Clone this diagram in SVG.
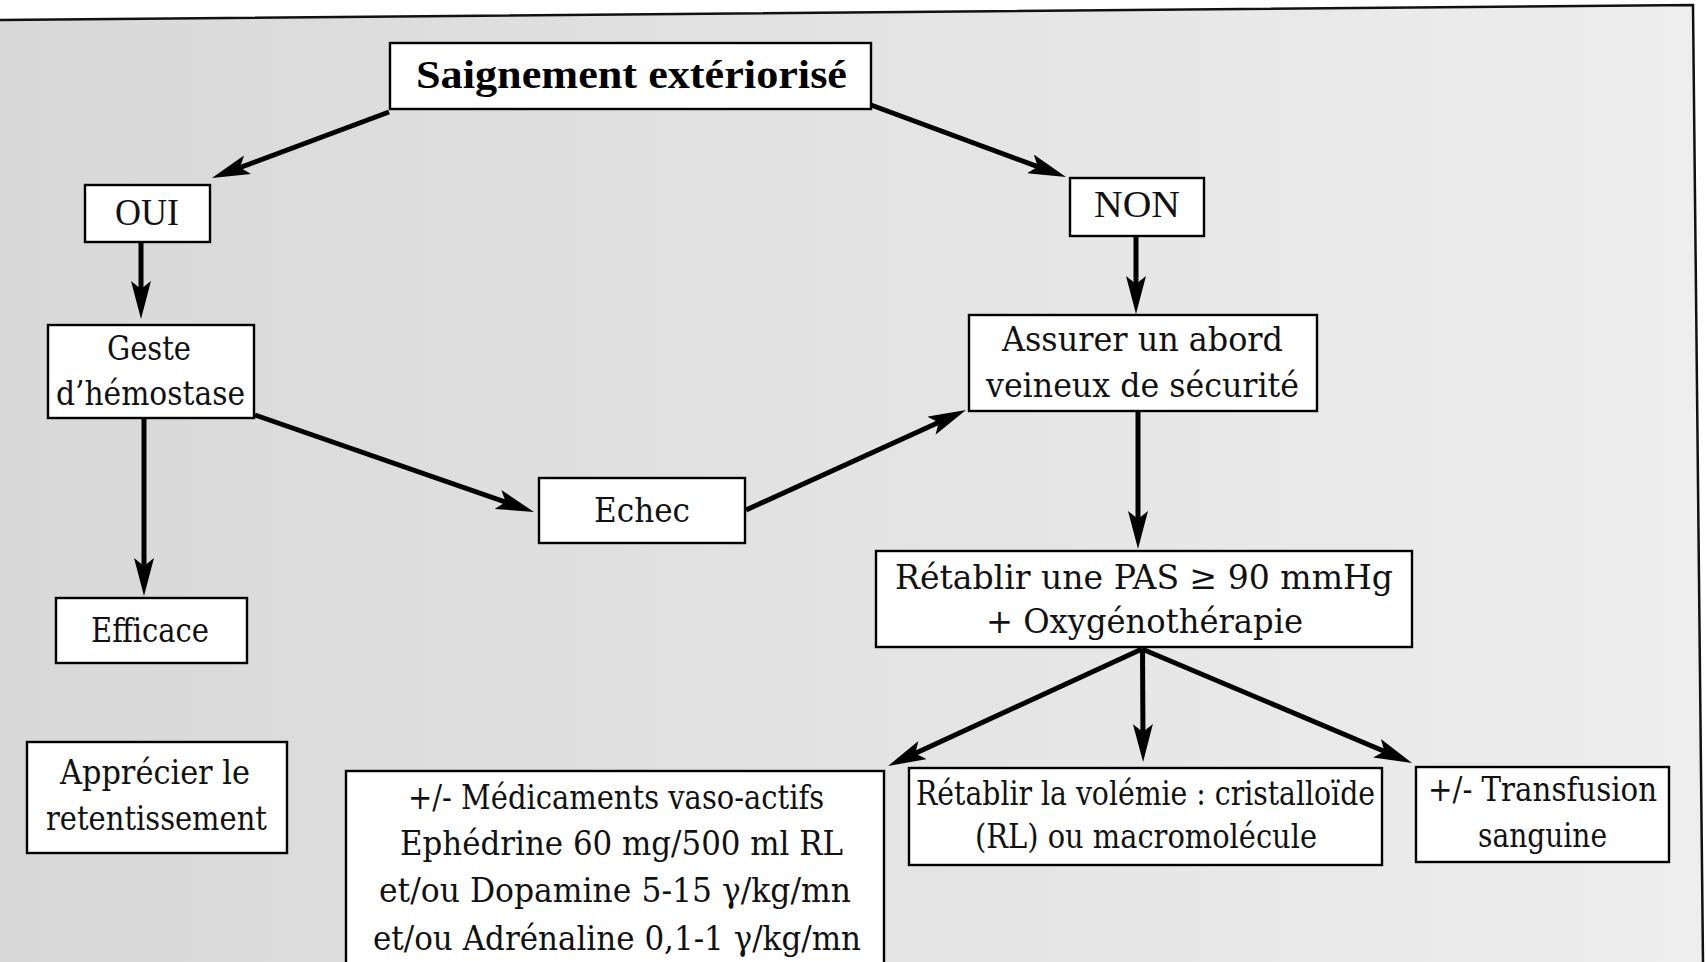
<svg xmlns="http://www.w3.org/2000/svg" width="1706" height="962" viewBox="0 0 1706 962">
  <defs>
    <linearGradient id="paper" x1="0" y1="0" x2="1" y2="0">
      <stop offset="0" stop-color="#d8d8d8"/>
      <stop offset="0.5" stop-color="#e3e3e3"/>
      <stop offset="1" stop-color="#eeeeee"/>
    </linearGradient>
    <marker id="head" viewBox="0 0 38 20" refX="18" refY="10" markerWidth="38" markerHeight="20" markerUnits="userSpaceOnUse" orient="auto">
      <path d="M0,0 L38,10 L0,20 L8,10 Z" fill="#000"/>
    </marker>
    <style>
      .box { fill: #fff; stroke: #000; stroke-width: 2.4; }
      .t { font-family: "DejaVu Serif Condensed", "DejaVu Serif", "Liberation Serif", serif; font-stretch: condensed; font-size: 34px; fill: #111; text-anchor: middle; }
      .tn { font-family: "Liberation Serif", "DejaVu Serif", serif; font-size: 37px; fill: #111; text-anchor: middle; }
      .tb { font-family: "Liberation Serif", "DejaVu Serif", serif; font-size: 41px; font-weight: bold; fill: #000; text-anchor: middle; }
      .edge { fill: none; stroke: #000; stroke-width: 5; marker-end: url(#head); }
    </style>
  </defs>

  <!-- page -->
  <rect x="0" y="0" width="1706" height="962" fill="#fff"/>
  <polygon points="0,20 1693,5 1703,962 0,962" fill="url(#paper)"/>
  <polyline points="0,20 1693,5 1703,962" fill="none" stroke="#111" stroke-width="2.5"/>

  <!-- connectors -->
  <g id="connectors">
    <line class="edge" x1="389" y1="112" x2="230.7" y2="171"/>
    <line class="edge" x1="871" y1="105" x2="1047.2" y2="170.1"/>
    <line class="edge" x1="141" y1="242" x2="141" y2="299"/>
    <line class="edge" x1="144" y1="418" x2="144" y2="576"/>
    <line class="edge" x1="255" y1="415" x2="515.1" y2="505.4"/>
    <line class="edge" x1="746" y1="510" x2="947.8" y2="418.3"/>
    <line class="edge" x1="1136" y1="236" x2="1136" y2="294"/>
    <line class="edge" x1="1138" y1="411" x2="1138" y2="529"/>
    <line class="edge" x1="1142" y1="649" x2="906.2" y2="757.6"/>
    <line class="edge" x1="1142.5" y1="649" x2="1143" y2="742"/>
    <line class="edge" x1="1142" y1="649" x2="1393.6" y2="755.2"/>
  </g>

  <!-- nodes -->
  <g id="n-saignement">
    <rect class="box" x="390" y="43" width="481" height="66"/>
    <text class="tb" x="631.5" y="88" textLength="431" lengthAdjust="spacingAndGlyphs">Saignement extériorisé</text>
  </g>
  <g id="n-oui">
    <rect class="box" x="85" y="185" width="125" height="57"/>
    <text class="tn" x="147" y="225" textLength="64" lengthAdjust="spacingAndGlyphs">OUI</text>
  </g>
  <g id="n-non">
    <rect class="box" x="1070" y="178" width="134" height="58"/>
    <text class="tn" x="1137" y="217" textLength="86" lengthAdjust="spacingAndGlyphs">NON</text>
  </g>
  <g id="n-geste">
    <rect class="box" x="48" y="325" width="206" height="93"/>
    <text class="t" x="149" y="360" textLength="84" lengthAdjust="spacingAndGlyphs">Geste</text>
    <text class="t" x="150.5" y="405" textLength="189" lengthAdjust="spacingAndGlyphs">d’hémostase</text>
  </g>
  <g id="n-efficace">
    <rect class="box" x="56" y="598" width="191" height="65"/>
    <text class="t" x="150" y="642" textLength="118" lengthAdjust="spacingAndGlyphs">Efficace</text>
  </g>
  <g id="n-echec">
    <rect class="box" x="539" y="478" width="206" height="65"/>
    <text class="t" x="642" y="522" textLength="96" lengthAdjust="spacingAndGlyphs">Echec</text>
  </g>
  <g id="n-abord">
    <rect class="box" x="969" y="315" width="348" height="96"/>
    <text class="t" x="1142.5" y="351" textLength="281" lengthAdjust="spacingAndGlyphs">Assurer un abord</text>
    <text class="t" x="1142.5" y="397" textLength="313" lengthAdjust="spacingAndGlyphs">veineux de sécurité</text>
  </g>
  <g id="n-pas">
    <rect class="box" x="876" y="551" width="536" height="96"/>
    <text class="t" x="1144" y="589" textLength="498" lengthAdjust="spacingAndGlyphs">Rétablir une PAS ≥ 90 mmHg</text>
    <text class="t" x="1144.5" y="633" textLength="317" lengthAdjust="spacingAndGlyphs">+ Oxygénothérapie</text>
  </g>
  <g id="n-apprecier">
    <rect class="box" x="27" y="742" width="260" height="111"/>
    <text class="t" x="155" y="784" textLength="190" lengthAdjust="spacingAndGlyphs">Apprécier le</text>
    <text class="t" x="156.5" y="830" textLength="221" lengthAdjust="spacingAndGlyphs">retentissement</text>
  </g>
  <g id="n-medicaments">
    <rect class="box" x="346" y="771" width="538" height="220"/>
    <text class="t" x="616" y="809" textLength="416" lengthAdjust="spacingAndGlyphs">+/- Médicaments vaso-actifs</text>
    <text class="t" x="621.5" y="855" textLength="443" lengthAdjust="spacingAndGlyphs">Ephédrine 60 mg/500 ml RL</text>
    <text class="t" x="615" y="902" textLength="472" lengthAdjust="spacingAndGlyphs">et/ou Dopamine 5-15 γ/kg/mn</text>
    <text class="t" x="617" y="950" textLength="488" lengthAdjust="spacingAndGlyphs">et/ou Adrénaline 0,1-1 γ/kg/mn</text>
  </g>
  <g id="n-volemie">
    <rect class="box" x="909" y="768" width="473" height="97"/>
    <text class="t" x="1145.5" y="805" textLength="459" lengthAdjust="spacingAndGlyphs">Rétablir la volémie : cristalloïde</text>
    <text class="t" x="1146" y="848" textLength="342" lengthAdjust="spacingAndGlyphs">(RL) ou macromolécule</text>
  </g>
  <g id="n-transfusion">
    <rect class="box" x="1416" y="767" width="253" height="95"/>
    <text class="t" x="1542.5" y="801" textLength="229" lengthAdjust="spacingAndGlyphs">+/- Transfusion</text>
    <text class="t" x="1542.5" y="847" textLength="129" lengthAdjust="spacingAndGlyphs">sanguine</text>
  </g>
</svg>
